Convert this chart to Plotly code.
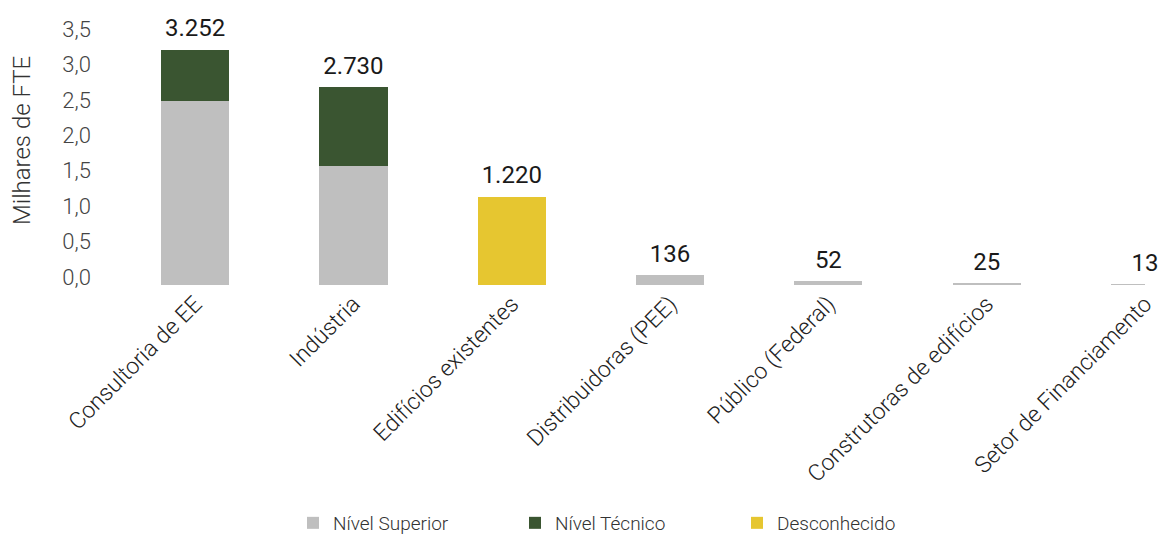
import plotly.graph_objects as go

categories = ["Consultoria de EE", "Indústria", "Edifícios existentes",
              "Distribuidoras (PEE)", "Público (Federal)",
              "Construtoras de edifícios", "Setor de Financiamento"]
nivel_superior = [2.54, 1.65, 0.0, 0.136, 0.052, 0.025, 0.013]
nivel_tecnico = [0.712, 1.08, 0.0, 0.0, 0.0, 0.0, 0.0]
desconhecido = [0.0, 0.0, 1.22, 0.0, 0.0, 0.0, 0.0]
total_labels = ["3.252", "2.730", "1.220", "136", "52", "25", "13"]
y_ticks = [0, 0.5, 1.0, 1.5, 2.0, 2.5, 3.0, 3.5]

totals = [a + b + c for a, b, c in zip(nivel_superior, nivel_tecnico, desconhecido)]

FONT = "Roboto"
W, H = 1162, 536
fig = go.Figure()
fig.add_trace(go.Bar(x=categories, y=nivel_superior, name="Nível Superior",
                     marker=dict(color="#bfbfbf", line=dict(width=0))))
fig.add_trace(go.Bar(x=categories, y=nivel_tecnico, name="Nível Técnico",
                     marker=dict(color="#3a5531", line=dict(width=0))))
fig.add_trace(go.Bar(x=categories, y=desconhecido, name="Desconhecido",
                     marker=dict(color="#e6c630", line=dict(width=0))))
fig.add_trace(go.Scatter(x=categories, y=totals, mode="markers+text", text=total_labels,
                         textposition="top center",
                         marker=dict(size=10, opacity=0),
                         textfont=dict(family=FONT, size=24, color="#1a1a1a"),
                         showlegend=False, cliponaxis=False, hoverinfo="skip"))
# invisible helper trace so the tick-label axis is drawn
fig.add_trace(go.Scatter(x=categories[:1], y=[0], yaxis="y2", mode="markers",
                         marker=dict(opacity=0), showlegend=False, hoverinfo="skip"))

fig.update_layout(
    barmode="stack",
    bargap=0.57,
    width=W, height=H,
    margin=dict(l=116, r=17, t=28, b=251, autoexpand=False),
    paper_bgcolor="white", plot_bgcolor="white",
    separators=",.",
    font=dict(family=FONT, color="#333333"),
    legend=dict(orientation="h",
                x=0.172, xanchor="left", y=-0.926, yanchor="middle",
                font=dict(family=FONT, size=19, color="#333333", weight=300),
                entrywidthmode="pixels", entrywidth=177,
                traceorder="normal"),
    yaxis=dict(range=[0, 3.55], showticklabels=False, showgrid=False,
               zeroline=False, showline=False, ticks="", automargin=False),
    yaxis2=dict(overlaying="y", side="left", range=[-0.113, 3.514],
                tickvals=y_ticks, tickformat=".1f",
                showgrid=False, zeroline=False, showline=False, ticks="",
                tickfont=dict(family=FONT, size=22, color="#444444", weight=300),
                ticklabelstandoff=24, automargin=False),
    annotations=[dict(text="Milhares de FTE", textangle=-90, showarrow=False,
                      xref="paper", yref="paper",
                      x=-(116 - 22) / 1029, y=(285 - 141) / 257,
                      xanchor="center", yanchor="middle",
                      font=dict(family=FONT, size=24, color="#333333", weight=300))],
)
fig.update_xaxes(range=[-0.5, 6.0], showline=False, showgrid=False, ticks="",
                 tickangle=-45, tickfont=dict(family=FONT, size=23, color="#222222", weight=300),
                 automargin=False)

fig.write_html("out.html", post_script="document.body.style.margin='0';",
               config={"displayModeBar": False})
